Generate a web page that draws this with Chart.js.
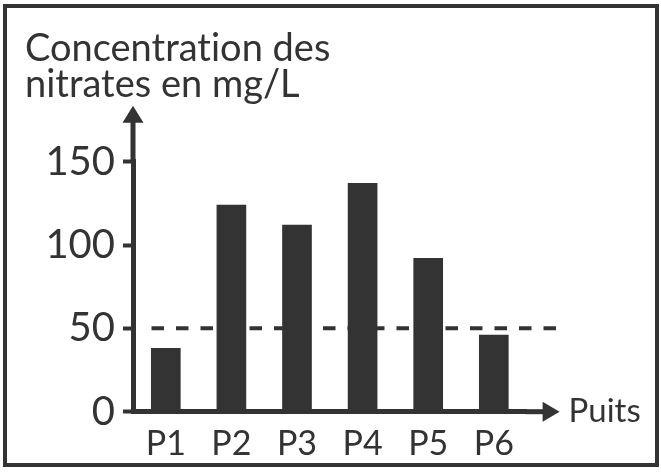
<!DOCTYPE html>
<html>
<head>
<meta charset="utf-8">
<script src="https://cdn.jsdelivr.net/npm/chart.js@4"></script>
<style>
  html, body { margin: 0; padding: 0; background: #fff; }
  #wrap { position: relative; width: 661px; height: 473px; }
  #frame {
    position: absolute; left: 3px; top: 4px; width: 648px; height: 455px;
    border: 4px solid #333; pointer-events: none;
  }
</style>
</head>
<body>
<div id="wrap">
  <canvas id="chart" width="661" height="473"></canvas>
  <div id="frame"></div>
</div>
<script>
// Données
const puits = ['P1', 'P2', 'P3', 'P4', 'P5', 'P6'];
const nitrates = [38, 124, 112, 137, 92, 46];
const yTicks = [0, 50, 100, 150];
const seuil = 50;
const titre = ['Concentration des', 'nitrates en mg/L'];
const xTitre = 'Puits';

const INK = '#333';
const FONT = 'Lato, "Open Sans", sans-serif';

// axes fléchés, seuil en pointillés, titre de l'axe x
const decor = {
  id: 'decor',
  beforeDraw(chart) {
    // pas de ligature "ti"
    chart.ctx.textRendering = 'optimizeSpeed';
  },
  afterDraw(chart) {
    const { ctx, chartArea: a, scales: { y } } = chart;
    ctx.save();
    ctx.strokeStyle = INK;
    ctx.fillStyle = INK;

    // prolongement de l'axe y + flèche
    ctx.lineWidth = 5;
    ctx.beginPath();
    ctx.moveTo(a.left, a.top + 1);
    ctx.lineTo(a.left, a.top - 40);
    ctx.stroke();
    ctx.beginPath();
    ctx.moveTo(a.left, a.top - 56);
    ctx.lineTo(a.left - 10.5, a.top - 39);
    ctx.lineTo(a.left + 10.5, a.top - 39);
    ctx.closePath();
    ctx.fill();

    // prolongement de l'axe x + flèche
    ctx.beginPath();
    ctx.moveTo(a.right - 1, a.bottom);
    ctx.lineTo(a.right + 17, a.bottom);
    ctx.stroke();
    ctx.beginPath();
    ctx.moveTo(a.right + 33, a.bottom);
    ctx.lineTo(a.right + 16, a.bottom - 10);
    ctx.lineTo(a.right + 16, a.bottom + 10);
    ctx.closePath();
    ctx.fill();

    // seuil
    const ys = y.getPixelForValue(seuil);
    ctx.lineWidth = 4;
    ctx.setLineDash([12.5, 12]);
    ctx.lineDashOffset = 12.5;
    ctx.beginPath();
    ctx.moveTo(a.left + 6.5, ys);
    ctx.lineTo(a.right + 30, ys);
    ctx.stroke();
    ctx.setLineDash([]);

    // titre de l'axe x
    ctx.font = '33px ' + FONT;
    ctx.textAlign = 'left';
    ctx.textBaseline = 'alphabetic';
    ctx.fillText(xTitre, a.right + 42, a.bottom + 10);
    ctx.restore();
  }
};

new Chart(document.getElementById('chart'), {
  type: 'bar',
  data: {
    labels: puits,
    datasets: [{
      data: nitrates,
      backgroundColor: INK,
      barThickness: 29
    }]
  },
  options: {
    responsive: false,
    animation: false,
    layout: { padding: { left: 25, right: 134.4, top: 0, bottom: 0 } },
    plugins: {
      legend: { display: false },
      tooltip: { enabled: false },
      title: {
        display: true,
        text: titre,
        align: 'start',
        color: INK,
        font: { family: FONT, size: 38, weight: 'normal', lineHeight: 0.947 },
        padding: { top: 30.7, bottom: 59 }
      }
    },
    scales: {
      x: {
        grid: { display: false },
        border: { display: true, color: INK, width: 5 },
        ticks: { color: INK, padding: 4, font: { family: FONT, size: 34 } },
        afterFit: s => { s.height = 61.3; }
      },
      y: {
        min: 0,
        max: 150,
        afterBuildTicks: s => { s.ticks = yTicks.map(v => ({ value: v })); },
        grid: {
          display: true, drawOnChartArea: false, drawTicks: true,
          tickLength: 10, tickWidth: 4, tickColor: INK
        },
        border: { display: true, color: INK, width: 5 },
        ticks: { color: INK, padding: 8, font: { family: FONT, size: 40 } },
        afterFit: s => { s.width = 108; }
      }
    }
  },
  plugins: [decor]
});
</script>
</body>
</html>
